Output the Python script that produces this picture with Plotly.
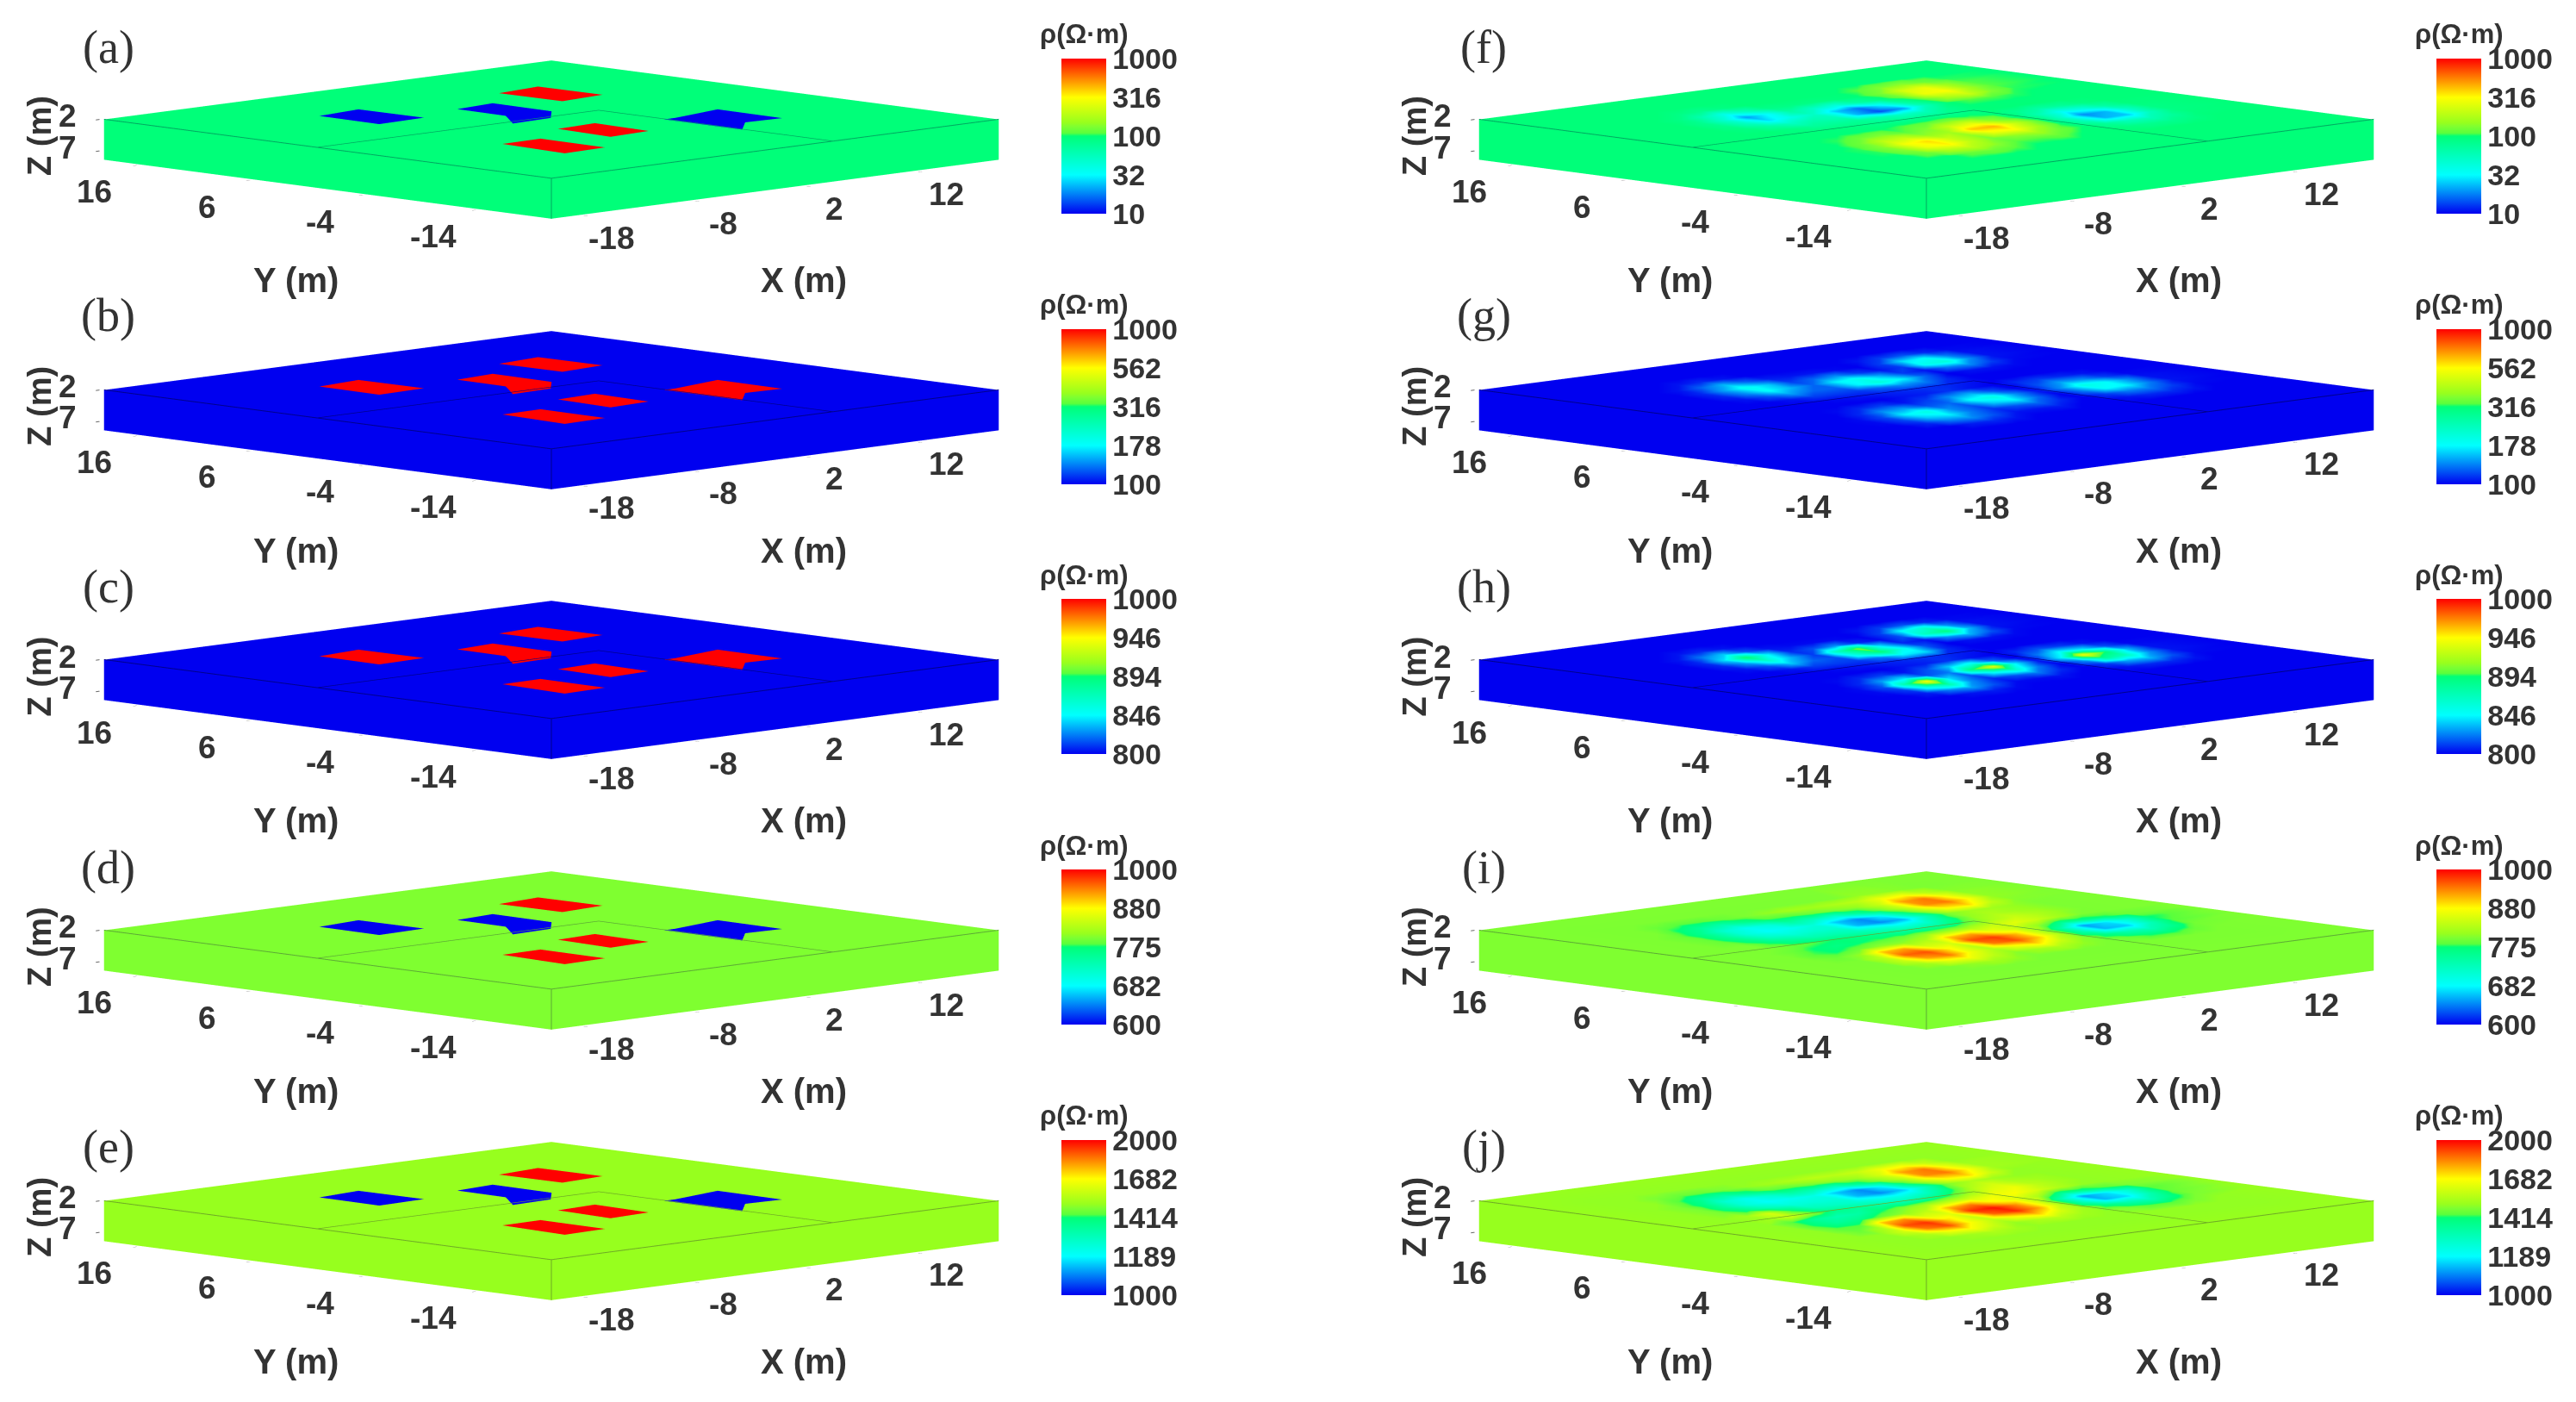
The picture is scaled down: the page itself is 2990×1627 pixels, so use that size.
import plotly.graph_objects as go

W, H = 2990, 1627
panel_names = ["(a)", "(b)", "(c)", "(d)", "(e)", "(f)", "(g)", "(h)", "(i)", "(j)"]
label_y_px = [55, 366, 681, 1007, 1331]
colorbar_ticks = [
    ["10", "32", "100", "316", "1000"],
    ["100", "178", "316", "562", "1000"],
    ["800", "846", "894", "946", "1000"],
    ["600", "682", "775", "880", "1000"],
    ["1000", "1189", "1414", "1682", "2000"],
]
# background level on the colour bar, percent of its length
background_level = [50, 0, 0, 56.3, 58.5]
edge_colors = ["#00a860", "#00008c", "#00008c", "#5cab35", "#6eab25"]

xlim = [-20.7, 19.4]
ylim = [-20.5, 19.1]
zlim = [-8.4, -1.95]
z_top = -2
z_block = -1.98
z_line = -1.97
x_range = [-20.9, 19.6]
y_range = [-20.7, 19.3]
z_range = [-8.5, -1.9]
x_ticks = [-18, -8, 2, 12]
y_ticks = [-14, -4, 6, 16]
z_ticks = [-2, -7]
z_tick_text = ["2", "7"]

# Model anomalies: [x corners], [y corners]
low_blocks = [
    ([-10, -5.8, -5.9, -9.9], [5.3, 5.5, 11.2, 10.7]),
    ([-1.5, 2.1, 2.2, -1.4], [2.5, 2.0, 7.3, 6.9]),
    ([-3.8, -0.2, 2.1, -1.5], [-0.4, -0.2, 2.0, 2.5]),
    ([7, 10.1, 10.2, 5.4], [-10.3, -10.5, -4.7, -5.7]),
    ([4.4, 7, 5.4, 4.4], [-12.6, -10.3, -5.7, -5.7]),
]
high_blocks = [
    ([6, 10, 9.9, 5.9], [4.9, 5.3, 10.9, 10.4]),
    ([-3.95, -0.25, 0, -3.6], [-9.2, -8.9, -3.9, -4.2]),
    ([-11.6, -7.8, -7.7, -11.2], [-12.7, -12.5, -6.7, -6.8]),
]
# cross-lines on the top face
line_a_x, line_a_y = [-20.7, 4.5], [0.2, 0.2]
line_b_x, line_b_y = [4.5, 4.5], [-20.5, 0.2]

# Inverted sections, percent of colour bar, on this grid
grid_x = [-16, -14, -12, -10, -8, -6, -4, -2, 0, 2, 4, 6, 8, 10, 12, 14]
grid_y = [-16, -14, -12, -10, -8, -6, -4, -2, 0, 2, 4, 6, 8, 10, 12, 14]
levels_f = [
    [50]*16,
    [50,50,50,53,54,52,50,50,50,50,50,50,50,50,50,50],
    [50,50,54,62,64,58,52,52,53,50,50,48,46,46,48,50],
    [50,51,57,72,76,64,55,58,60,54,50,44,38,38,44,49],
    [50,51,57,73,78,66,58,72,74,60,50,38,18,20,38,48],
    [50,50,54,64,66,58,60,80,82,66,52,36,14,18,36,48],
    [50,50,51,54,56,52,56,66,70,58,50,40,28,32,42,49],
    [50,50,50,50,50,50,52,53,55,52,50,46,42,44,48,50],
    [50,50,50,50,49,48,47,46,46,46,48,50,50,50,50,50],
    [50,50,50,48,44,44,44,40,36,38,46,50,50,50,50,50],
    [50,50,48,42,36,40,38,18,8,16,38,50,52,52,51,50],
    [50,50,46,36,22,30,36,20,12,24,42,52,62,66,56,51],
    [50,50,46,34,16,26,42,36,32,42,48,55,72,74,60,52],
    [50,50,48,40,30,38,47,48,48,49,50,55,68,72,60,52],
    [50,50,50,48,46,48,50,50,50,50,50,52,56,58,54,51],
    [50]*16,
]
levels_g = [
    [0]*16,
    [0,0,0,3,4,2,0,0,0,0,0,0,0,0,0,0],
    [0,0,4,12,14,8,2,2,3,0,0,2,4,4,2,0],
    [0,1,7,20,24,12,5,8,10,4,0,6,12,12,6,1],
    [0,1,7,24,30,14,8,20,24,10,0,12,26,24,12,2],
    [0,0,4,14,16,8,10,26,30,14,2,14,30,26,14,2],
    [0,0,1,4,6,2,6,14,18,8,0,8,16,14,6,1],
    [0,0,0,0,0,0,2,3,5,2,0,4,6,4,2,0],
    [0,0,0,0,1,2,3,4,5,4,2,0,0,0,0,0],
    [0,0,0,2,6,6,6,10,14,12,4,0,0,0,0,0],
    [0,0,2,8,16,10,10,24,32,24,10,0,2,2,1,0],
    [0,0,4,14,26,18,10,24,28,18,6,2,12,14,6,1],
    [0,0,4,16,28,20,6,10,14,6,2,6,28,32,14,2],
    [0,0,2,10,18,10,3,2,2,1,0,6,22,26,12,2],
    [0,0,0,2,4,2,0,0,0,0,0,2,6,8,4,1],
    [0]*16,
]
levels_h = [
    [0]*16,
    [0,0,0,2,3,1,0,0,0,0,0,0,0,0,0,0],
    [0,0,3,12,16,8,1,1,2,0,0,2,4,4,2,0],
    [0,1,6,30,40,14,4,8,12,4,0,6,16,18,8,1],
    [0,1,8,40,74,22,8,26,34,12,0,14,44,36,14,2],
    [0,0,4,16,22,8,12,48,70,24,2,24,72,50,18,2],
    [0,0,1,4,6,2,8,20,28,10,0,12,26,22,8,1],
    [0,0,0,0,0,0,2,3,5,2,0,4,8,6,2,0],
    [0,0,0,0,1,2,3,4,5,4,2,0,0,0,0,0],
    [0,0,0,2,6,6,6,12,24,22,4,0,0,0,0,0],
    [0,0,2,8,20,10,8,32,50,28,8,0,2,2,1,0],
    [0,0,4,16,34,18,6,36,56,22,4,2,14,18,8,1],
    [0,0,4,22,50,24,4,8,14,4,1,8,36,48,18,2],
    [0,0,2,12,20,8,2,1,1,1,0,6,26,34,14,2],
    [0,0,0,2,4,2,0,0,0,0,0,2,6,8,4,1],
    [0]*16,
]
levels_i = [
    [56]*16,
    [56,56,56,58,60,58,56,56,56,56,56,56,56,56,56,56],
    [56,56,60,70,72,64,57,60,62,58,56,54,50,50,54,56],
    [56,56,66,84,88,72,62,72,78,66,57,48,40,38,46,55],
    [56,56,64,90,92,76,64,88,92,80,62,40,18,20,38,52],
    [56,54,58,80,84,68,68,92,94,82,64,42,16,22,34,50],
    [56,52,50,54,58,58,62,80,84,72,66,58,46,48,50,54],
    [56,54,50,48,50,52,54,58,60,62,66,70,66,60,56,56],
    [56,56,54,52,50,48,46,44,44,46,54,62,66,62,58,56],
    [56,56,50,44,40,40,38,34,30,34,46,58,62,60,58,56],
    [56,54,46,36,32,34,34,18,14,18,38,56,60,60,58,56],
    [56,54,44,32,26,28,32,20,14,24,46,62,76,78,64,57],
    [56,54,46,34,28,32,42,38,34,44,54,66,86,88,74,58],
    [56,56,50,44,40,46,52,52,54,56,58,66,84,88,72,58],
    [56,56,54,52,52,54,56,58,60,60,62,64,72,74,64,57],
    [56,56,56,56,56,56,56,56,56,56,56,56,58,58,57,56],
]
levels_j = [
    [58]*16,
    [58,58,58,60,62,60,58,58,58,58,58,58,58,58,58,58],
    [58,58,62,72,74,66,58,62,64,60,58,56,52,52,56,58],
    [58,58,68,88,92,74,64,74,80,68,60,48,40,38,48,56],
    [58,54,62,92,95,78,66,90,96,84,64,38,18,22,40,54],
    [58,52,52,80,86,70,70,95,98,86,68,40,16,22,34,52],
    [58,50,44,46,54,58,64,82,88,76,70,62,46,48,52,56],
    [58,52,44,40,42,50,56,60,64,68,72,74,68,62,58,58],
    [58,60,66,56,46,44,42,40,44,50,60,70,72,64,60,58],
    [58,60,68,50,38,36,34,30,30,36,48,62,68,62,60,58],
    [58,56,48,38,32,32,32,18,14,20,38,56,62,60,58,58],
    [58,56,44,32,26,28,30,20,14,24,48,64,76,78,66,58],
    [58,56,48,34,28,34,42,40,36,46,56,66,86,88,74,60],
    [58,58,52,44,42,48,54,54,56,58,60,68,84,88,72,60],
    [58,58,56,54,54,56,58,60,62,64,64,66,72,74,66,58],
    [58,58,58,58,58,58,58,58,58,58,58,58,58,58,58,58],
]
inverted_levels = [levels_f, levels_g, levels_h, levels_i, levels_j]

colorscale = [
    [0.0, "rgb(0,0,240)"], [0.25, "rgb(0,255,255)"], [0.5, "rgb(0,255,120)"],
    [0.52, "rgb(90,255,60)"], [0.563, "rgb(128,255,48)"], [0.585, "rgb(150,255,30)"],
    [0.75, "rgb(255,255,0)"], [0.875, "rgb(255,128,0)"], [1.0, "rgb(255,0,0)"],
]
FLAT = dict(ambient=1, diffuse=0, specular=0, fresnel=0, roughness=1)
TEXT_COLOR = "#333333"
TICK_FONT = dict(family="Liberation Sans", size=37, color=TEXT_COLOR, weight="bold")

# layout tuning (page pixels)
COL_DX = 1596
ROW_DY = 313.7
CENTER_X = 640
CENTER_Y = 162
DOM_HALF_W = 600
DOM_HALF_H = 152
EYE_H = 5.0
EYE_Z = 0.94
ASPECT_XY = 4.88
ASPECT_Z = 0.32


def px(x, y):
    return x / W, 1 - y / H


class Mesh:
    def __init__(self):
        self.x, self.y, self.z, self.v, self.i, self.j, self.k = [], [], [], [], [], [], []

    def quad(self, pts, level):
        n = len(self.x)
        for p in pts:
            self.x.append(p[0]); self.y.append(p[1]); self.z.append(p[2]); self.v.append(level)
        self.i += [n, n]; self.j += [n + 1, n + 2]; self.k += [n + 2, n + 3]

    def grid(self, xs, ys, z, vals):
        n = len(self.x)
        nx = len(xs)
        for r, yy in enumerate(ys):
            for c, xx in enumerate(xs):
                self.x.append(xx); self.y.append(yy); self.z.append(z); self.v.append(vals[r][c])
        for r in range(len(ys) - 1):
            for c in range(nx - 1):
                a = n + r * nx + c
                self.i += [a, a]; self.j += [a + 1, a + nx + 1]; self.k += [a + nx + 1, a + nx]


fig = go.Figure()
layout = {}
annotations = []


def add_text(x, y, text, size, family="Liberation Sans", angle=0, weight="bold"):
    ax, ay = px(x, y)
    annotations.append(dict(x=ax, y=ay, xref="paper", yref="paper", text=text, showarrow=False,
                            xanchor="center", yanchor="middle", textangle=angle,
                            font=dict(family=family, size=size, color=TEXT_COLOR, weight=weight)))


def tick_note(x, y, z, text, xshift, yshift):
    return dict(x=x, y=y, z=z, text=text, showarrow=False, xanchor="center", yanchor="middle",
                xshift=xshift, yshift=yshift, font=TICK_FONT)


x0, x1 = xlim
y0, y1 = ylim
zb = zlim[0]
for col in range(2):
    for row in range(5):
        n = col * 5 + row
        scene = "scene" if n == 0 else f"scene{n + 1}"
        dx = col * COL_DX
        dy = row * ROW_DY
        bg = background_level[row]
        m = Mesh()
        if col == 0:
            m.quad([(x0, y0, z_top), (x1, y0, z_top), (x1, y1, z_top), (x0, y1, z_top)], bg)
            low = 100 if row in (1, 2) else 0
            for blocks, level in ((low_blocks, low), (high_blocks, 100)):
                for bx, by in blocks:
                    m.quad([(a, b, z_block) for a, b in zip(bx, by)], level)
        else:
            nodes_x = [x0] + grid_x + [x1]
            nodes_y = [y0] + grid_y + [y1]
            full = [[bg] * len(nodes_x)] + [[bg] + r + [bg] for r in inverted_levels[row]] + [[bg] * len(nodes_x)]
            m.grid(nodes_x, nodes_y, z_top, full)
        m.quad([(x0, y0, z_top), (x0, y1, z_top), (x0, y1, zb), (x0, y0, zb)], bg)
        m.quad([(x0, y0, z_top), (x1, y0, z_top), (x1, y0, zb), (x0, y0, zb)], bg)
        cbar = dict(
            x=(1232 + dx) / W, xanchor="left", xpad=0, y=1 - (68 + dy) / H, yanchor="top", ypad=0,
            len=180, lenmode="pixels", thickness=52, thicknessmode="pixels",
            tickmode="array", tickvals=[0, 25, 50, 75, 100], ticktext=colorbar_ticks[row],
            tickfont=dict(family="Liberation Sans", size=34, color=TEXT_COLOR, weight="bold"),
            ticks="", outlinewidth=0,
        )
        fig.add_trace(go.Mesh3d(x=m.x, y=m.y, z=m.z, i=m.i, j=m.j, k=m.k, intensity=m.v,
                                intensitymode="vertex", cmin=0, cmax=100, colorscale=colorscale,
                                lighting=FLAT, hoverinfo="skip", scene=scene, showscale=True,
                                colorbar=cbar))
        fig.add_trace(go.Scatter3d(
            x=[x0, x0, None, x0, x1, None, x0, x0, None] + line_a_x + [None] + line_b_x,
            y=[y1, y0, None, y0, y0, None, y0, y0, None] + line_a_y + [None] + line_b_y,
            z=[z_line, z_line, None, z_line, z_line, None, z_top, zb, None] + [z_line] * 2 + [None] + [z_line] * 2,
            mode="lines", scene=scene, line=dict(color=edge_colors[row], width=2),
            hoverinfo="skip", showlegend=False))
        cx, cy = CENTER_X + dx, CENTER_Y + dy
        ax_common = dict(showgrid=False, zeroline=False, showbackground=False, showspikes=False,
                         showline=False, tickmode="array", ticks="outside", ticklen=6,
                         tickcolor="#666666", tickwidth=2, showticklabels=False, title=dict(text=""))
        notes = (
            [tick_note(v, y0, zb, str(v), 35, -27) for v in x_ticks]
            + [tick_note(x0, v, zb, str(v), -52, -32) for v in y_ticks]
            + [tick_note(x0, y1, v, t, -42, 4) for v, t in zip(z_ticks, z_tick_text)]
        )
        layout[scene] = dict(
            domain=dict(x=[(cx - DOM_HALF_W) / W, (cx + DOM_HALF_W) / W],
                        y=[1 - (cy + DOM_HALF_H) / H, 1 - (cy - DOM_HALF_H) / H]),
            bgcolor="rgba(0,0,0,0)",
            aspectmode="manual", aspectratio=dict(x=ASPECT_XY, y=ASPECT_XY, z=ASPECT_Z),
            camera=dict(projection=dict(type="orthographic"),
                        eye=dict(x=-EYE_H, y=-EYE_H, z=EYE_Z), up=dict(x=0, y=0, z=1),
                        center=dict(x=0, y=0, z=0)),
            xaxis=dict(range=x_range, tickvals=x_ticks, **ax_common),
            yaxis=dict(range=y_range, tickvals=y_ticks, **ax_common),
            zaxis=dict(range=z_range, tickvals=z_ticks, ticktext=z_tick_text, **ax_common),
            annotations=notes,
        )
        add_text(126 + dx, label_y_px[row], panel_names[n], 54, "Liberation Serif", weight="normal")
        add_text(343 + dx, 325 + dy, "Y (m)", 40)
        add_text(933 + dx, 325 + dy, "X (m)", 40)
        add_text(46 + dx, 158 + dy, "Z (m)", 38, angle=-90)
        add_text(1258 + dx, 40 + dy, "ρ(Ω·m)", 31)

fig.update_layout(width=W, height=H, margin=dict(l=0, r=0, t=0, b=0), paper_bgcolor="white",
                  showlegend=False, annotations=annotations, **layout)
fig.write_html("out.html", config=dict(displayModeBar=False),
               post_script="document.body.style.margin='0';document.body.style.overflow='hidden';")
